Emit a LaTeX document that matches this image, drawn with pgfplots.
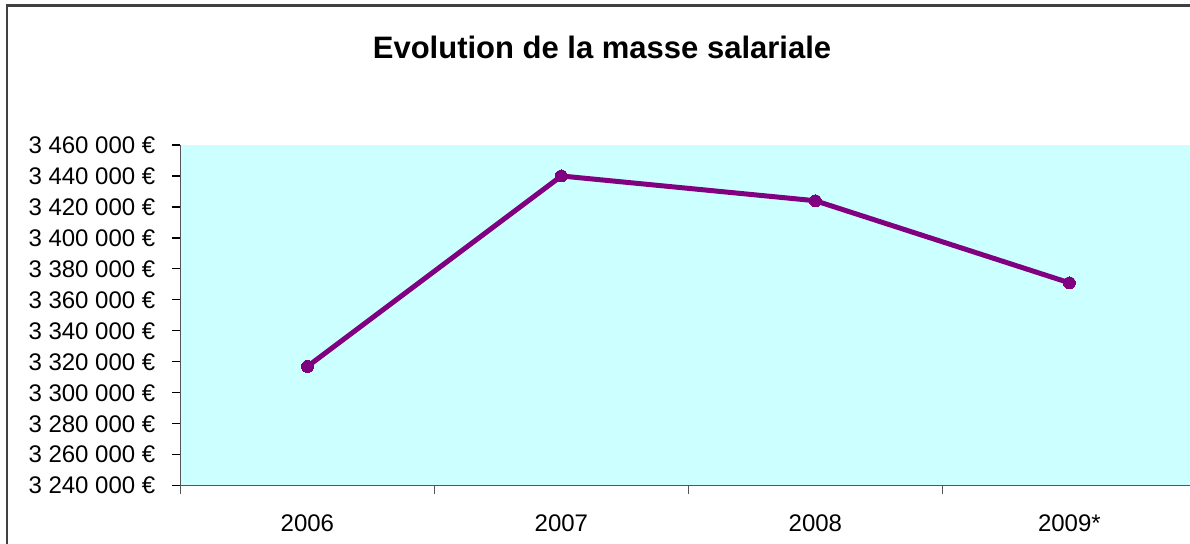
\documentclass[border=0pt]{standalone}
\usepackage{pgfplots}
\pgfplotsset{compat=1.18}
\usepackage{fontspec}
\setmainfont{Liberation Sans}
\definecolor{bgcyan}{HTML}{CCFFFF}
\definecolor{serie}{HTML}{800080}
\definecolor{axgray}{HTML}{555555}
\begin{document}
\begin{tikzpicture}
\useasboundingbox (0,0) rectangle (595pt,-272pt);
\clip (0,0) rectangle (595pt,-272pt);
\draw[line width=1.1pt, color=black!75] (3.4pt,-400pt) -- (3.4pt,-2.8pt) -- (700pt,-2.8pt);
\node[font=\bfseries\fontsize{15.5}{18}\selectfont, anchor=center] at (301pt,-23.5pt) {Evolution de la masse salariale};
\begin{axis}[
  at={(90.2pt,-242.85pt)}, anchor=south west,
  scale only axis, width=508pt, height=170.35pt,
  xmin=-0.5, xmax=3.5, ymin=3240000, ymax=3460000,
  scaled y ticks=false,
  axis background/.style={fill=bgcyan},
  axis x line*=bottom, axis y line*=left,
  axis line style={-, color=axgray, line width=0.8pt},
  xtick={0,1,2,3},
  xticklabels={2006,2007,2008,2009*},
  minor xtick={-0.5,0.5,1.5,2.5,3.5},
  major x tick style={draw=none},
  minor x tick style={color=axgray, line width=0.6pt},
  minor tick length=4pt,
  major tick length=4pt,
  tick align=outside,
  ytick={3240000,3260000,3280000,3300000,3320000,3340000,3360000,3380000,3400000,3420000,3440000,3460000},
  yticklabels={3 240 000 €,3 260 000 €,3 280 000 €,3 300 000 €,3 320 000 €,3 340 000 €,3 360 000 €,3 380 000 €,3 400 000 €,3 420 000 €,3 440 000 €,3 460 000 €},
  y tick style={color=black, line width=0.6pt},
  ticklabel style={font=\fontsize{12}{14}\selectfont},
  yticklabel style={xshift=-5pt},
  xticklabel style={yshift=-7pt},
  clip=false,
]
\addplot[color=serie, line width=2.5pt, mark=*, mark size=3pt, mark options={fill=serie, draw=serie, line width=0pt}]
  coordinates {(0,3317000) (1,3440000) (2,3424000) (3,3371000)};
\end{axis}
\end{tikzpicture}
\end{document}
